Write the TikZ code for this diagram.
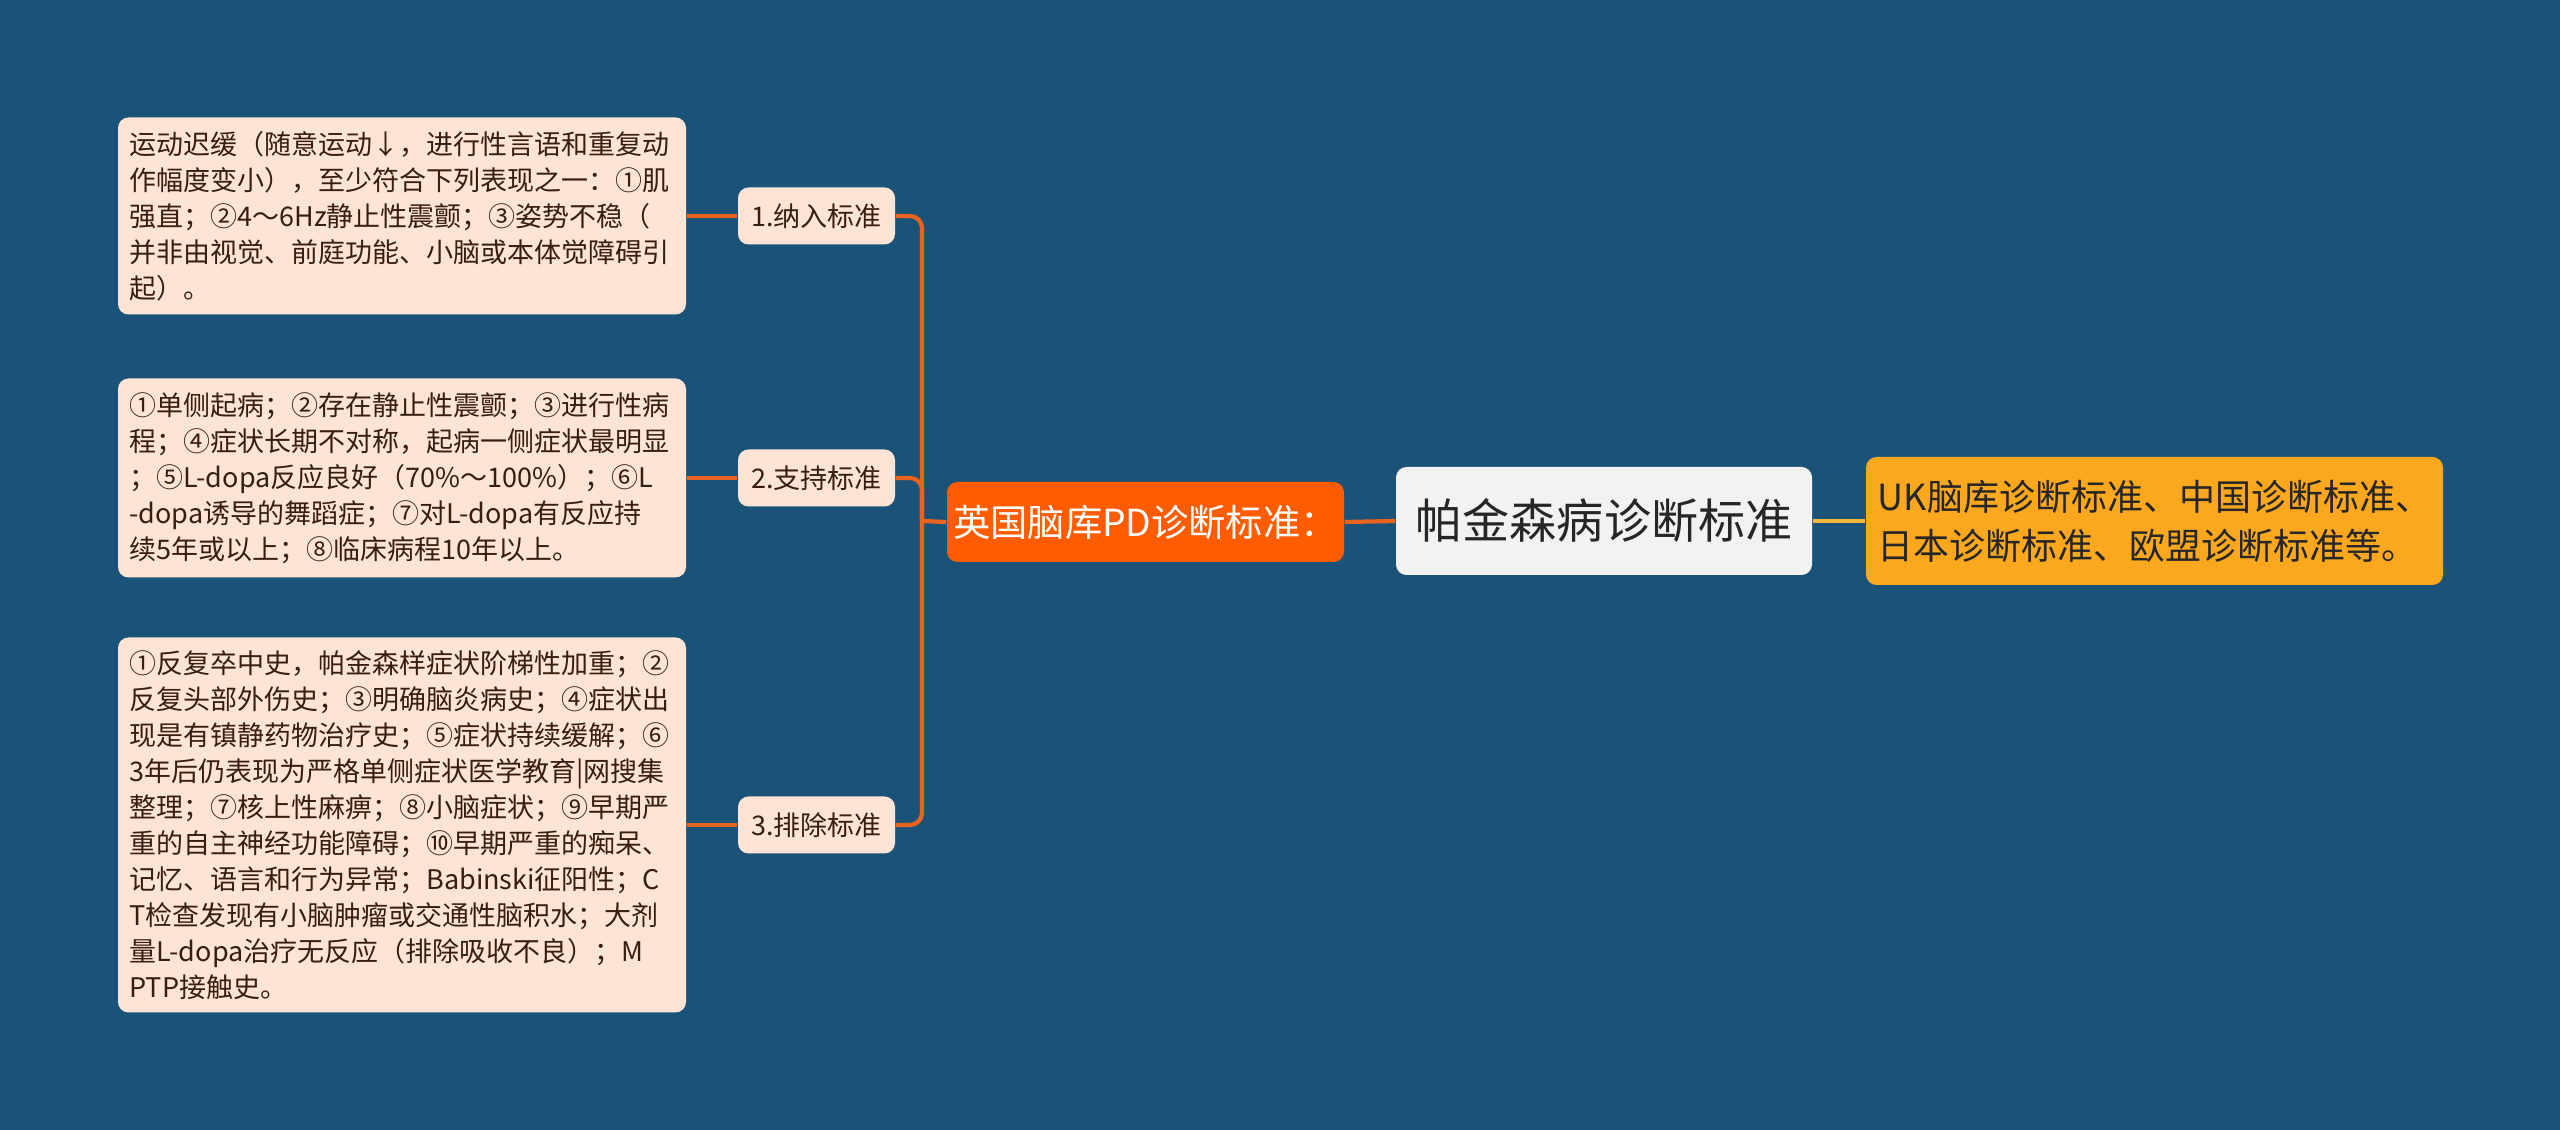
\documentclass[tikz,border=0pt]{standalone}
\usepackage{fontspec}
\setmainfont{Noto Sans CJK SC}

\definecolor{bgblue}{HTML}{1B5378}
\definecolor{peach}{HTML}{FDE4D4}
\definecolor{darkbrown}{HTML}{3A1D0F}
\definecolor{rootorange}{HTML}{FF5B01}
\definecolor{linkorange}{HTML}{E8641E}
\definecolor{gold}{HTML}{FBA81F}
\definecolor{linkgold}{HTML}{F4B73A}
\definecolor{palegrey}{HTML}{F2F2F2}

\begin{document}
\begin{tikzpicture}[
		box/.style={fill=peach, rounded corners=3pt, text=darkbrown, align=left,
			font=\fontsize{7.68}{10.24}\selectfont, text width=5.45cm, inner xsep=0.115cm, inner ysep=0pt},
		tag/.style={fill=peach, rounded corners=3pt, text=darkbrown, font=\fontsize{7.68}{10.24}\selectfont,
			minimum width=1.57cm, minimum height=0.57cm, inner sep=0pt},
		link/.style={draw=linkorange, line width=1.2pt},
		goldlink/.style={draw=linkgold, line width=1.2pt}
	]
	\fill[bgblue] (0,0) rectangle (25.6,-11.3);

	% left column
	\node[box, minimum height=1.97cm] (box1) at (4.02,-2.16) {运动迟缓（随意运动↓，进行性言语和重复动\\作幅度变小），至少符合下列表现之一：①肌\\强直；②4～6Hz静止性震颤；③姿势不稳（\\并非由视觉、前庭功能、小脑或本体觉障碍引\\起）。};
	\node[box, minimum height=1.99cm] (box2) at (4.02,-4.78) {①单侧起病；②存在静止性震颤；③进行性病\\程；④症状长期不对称，起病一侧症状最明显\\；⑤L-dopa反应良好（70\%～100\%）；⑥L\\-dopa诱导的舞蹈症；⑦对L-dopa有反应持\\续5年或以上；⑧临床病程10年以上。};
	\node[box, minimum height=3.75cm] (box3) at (4.02,-8.25) {①反复卒中史，帕金森样症状阶梯性加重；②\\反复头部外伤史；③明确脑炎病史；④症状出\\现是有镇静药物治疗史；⑤症状持续缓解；⑥\\3年后仍表现为严格单侧症状医学教育|网搜集\\整理；⑦核上性麻痹；⑧小脑症状；⑨早期严\\重的自主神经功能障碍；⑩早期严重的痴呆、\\记忆、语言和行为异常；Babinski征阳性；C\\T检查发现有小脑肿瘤或交通性脑积水；大剂\\量L-dopa治疗无反应（排除吸收不良）；M\\PTP接触史。};

	\node[tag] (lab1) at (8.165,-2.16) {1.纳入标准};
	\node[tag] (lab2) at (8.165,-4.78) {2.支持标准};
	\node[tag] (lab3) at (8.165,-8.25) {3.排除标准};

	% main row
	\node[fill=rootorange, rounded corners=3pt, text=white, font=\fontsize{10.6}{12}\selectfont,
		minimum width=3.97cm, minimum height=0.8cm, inner sep=0pt] (root) at (11.455,-5.22) {英国脑库PD诊断标准：};
	\node[fill=palegrey, rounded corners=3pt, text=black!85, font=\fontsize{13.4}{16}\selectfont,
		minimum width=4.16cm, minimum height=1.08cm, inner sep=0pt] (hub) at (16.04,-5.21) {帕金森病诊断标准};
	\node[fill=gold, rounded corners=3pt, text=black!85, font=\fontsize{10.24}{13.9}\selectfont, align=left,
		minimum width=5.77cm, minimum height=1.28cm, inner sep=0pt] (side) at (21.545,-5.21) {UK脑库诊断标准、中国诊断标准、\\日本诊断标准、欧盟诊断标准等。};

	\coordinate (trunk) at (9.22,-5.21);

	\draw[link] (root.west) -- (trunk);
	\draw[link, rounded corners=0.12cm] (trunk) |- (lab1.east);
	\draw[link, rounded corners=0.12cm] (trunk) |- (lab2.east);
	\draw[link, rounded corners=0.12cm] (trunk) |- (lab3.east);
	\draw[link] (box1.east) -- (lab1.west);
	\draw[link] (box2.east) -- (lab2.west);
	\draw[link] (box3.east) -- (lab3.west);
	\draw[link] (root.east) -- (hub.west);
	\draw[goldlink] (hub.east) -- (side.west);
\end{tikzpicture}
\end{document}
